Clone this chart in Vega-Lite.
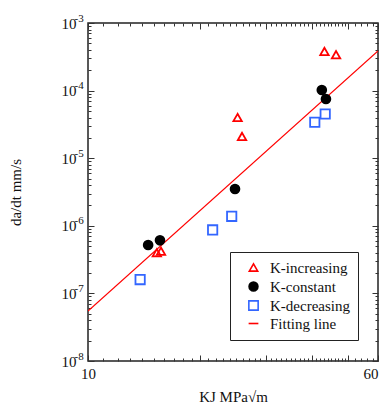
{
  "$schema": "https://vega.github.io/schema/vega-lite/v6.json",
  "width": 290,
  "height": 338,
  "autosize": {"type": "none"},
  "padding": {"left": 88, "top": 23, "right": 12, "bottom": 50},
  "background": "white",
  "config": {
    "view": {"stroke": "#222", "strokeWidth": 1.5},
    "font": "Liberation Serif",
    "legend": {
      "orient": "none",
      "legendX": 142,
      "legendY": 229,
      "strokeColor": "#222",
      "fillColor": "white",
      "padding": 8,
      "labelFont": "Liberation Serif",
      "labelFontSize": 15,
      "labelColor": "#111",
      "labelOffset": 9,
      "symbolOffset": 8,
      "rowPadding": 2,
      "symbolStrokeWidth": 1.6
    }
  },
  "data": {
    "values": [
      {"series": "K-increasing", "K": 15.3, "rate": 4.0e-7},
      {"series": "K-increasing", "K": 15.7, "rate": 4.2e-7},
      {"series": "K-increasing", "K": 25.2, "rate": 4.0e-5},
      {"series": "K-increasing", "K": 25.9, "rate": 2.1e-5},
      {"series": "K-increasing", "K": 43.1, "rate": 3.8e-4},
      {"series": "K-increasing", "K": 46.3, "rate": 3.4e-4},
      {"series": "K-constant", "K": 14.5, "rate": 5.2e-7},
      {"series": "K-constant", "K": 15.6, "rate": 6.1e-7},
      {"series": "K-constant", "K": 24.8, "rate": 3.5e-6},
      {"series": "K-constant", "K": 42.4, "rate": 1.02e-4},
      {"series": "K-constant", "K": 43.5, "rate": 7.5e-5},
      {"series": "K-decreasing", "K": 13.8, "rate": 1.6e-7},
      {"series": "K-decreasing", "K": 21.6, "rate": 8.7e-7},
      {"series": "K-decreasing", "K": 24.3, "rate": 1.38e-6},
      {"series": "K-decreasing", "K": 40.6, "rate": 3.4e-5},
      {"series": "K-decreasing", "K": 43.3, "rate": 4.5e-5},
      {"series": "Fitting line", "K": 10, "rate": 5.5e-8},
      {"series": "Fitting line", "K": 60, "rate": 3.85e-4}
    ]
  },
  "layer": [
    {
      "transform": [{"filter": "datum.series == 'Fitting line'"}],
      "mark": {"type": "line", "strokeWidth": 1.2, "clip": true},
      "encoding": {
        "x": {
          "field": "K", "type": "quantitative",
          "scale": {"type": "log", "domain": [10, 60], "nice": false},
          "axis": {
            "orient": "top", "title": null, "labels": false, "domain": false, "grid": false,
            "values": [10,11,12,13,14,15,16,17,18,19,20,21,22,23,24,25,26,27,28,29,30,31,32,33,34,35,36,37,38,39,40,41,42,43,44,45,46,47,48,49,50,52,54,56,58,60],
            "tickColor": "#333",
            "tickSize": {"condition": {"test": "datum.value % 10 == 0", "value": -6}, "value": -3}
          }
        },
        "y": {
          "field": "rate", "type": "quantitative",
          "scale": {"type": "log", "domain": [1e-8, 1e-3], "nice": false},
          "axis": {
            "orient": "right", "title": null, "labels": false, "domain": false, "grid": false,
            "values": [1e-8,2e-8,3e-8,4e-8,5e-8,6e-8,7e-8,8e-8,9e-8,1e-7,2e-7,3e-7,4e-7,5e-7,6e-7,7e-7,8e-7,9e-7,1e-6,2e-6,3e-6,4e-6,5e-6,6e-6,7e-6,8e-6,9e-6,1e-5,2e-5,3e-5,4e-5,5e-5,6e-5,7e-5,8e-5,9e-5,1e-4,2e-4,3e-4,4e-4,5e-4,6e-4,7e-4,8e-4,9e-4,1e-3],
            "tickColor": "#333",
            "tickSize": {"condition": {"test": "abs(log(datum.value)/LN10 - round(log(datum.value)/LN10)) < 0.001", "value": -6}, "value": -3}
          }
        },
        "stroke": {
          "field": "series", "type": "nominal",
          "scale": {"domain": ["K-increasing", "K-constant", "K-decreasing", "Fitting line"], "range": ["#ff0000", "#000000", "#3366ff", "#ff0000"]},
          "legend": {"title": null, "labelExpr": "datum.label + '\u00a0\u00a0\u00a0\u00a0\u00a0'"}
        }
      }
    },
    {
      "transform": [{"filter": "datum.series == 'K-increasing' || datum.series == 'K-constant'"}],
      "mark": {"type": "point", "strokeWidth": 1.8, "opacity": 1},
      "encoding": {
        "x": {
          "field": "K", "type": "quantitative",
          "scale": {"type": "log", "domain": [10, 60], "nice": false},
          "axis": {
            "orient": "bottom", "title": "KJ MPa√m", "domain": false, "grid": false,
            "values": [10,11,12,13,14,15,16,17,18,19,20,21,22,23,24,25,26,27,28,29,30,31,32,33,34,35,36,37,38,39,40,41,42,43,44,45,46,47,48,49,50,52,54,56,58,60],
            "format": "d",
            "labelExpr": "datum.value == 10 || datum.value == 60 ? datum.label : ''",
            "labelAlign": {"condition": {"test": "datum.value == 60", "value": "right"}, "value": "center"},
            "labelOverlap": false, "labelFlush": false,
            "labelFont": "Liberation Serif", "labelFontSize": 15, "labelColor": "#111",
            "labelPadding": 11,
            "titleFont": "Liberation Serif", "titleFontSize": 15, "titleFontWeight": "normal", "titleColor": "#111",
            "titlePadding": 5,
            "tickColor": "#333",
            "tickSize": {"condition": {"test": "datum.value % 10 == 0", "value": -6}, "value": -3}
          }
        },
        "y": {
          "field": "rate", "type": "quantitative",
          "scale": {"type": "log", "domain": [1e-8, 1e-3], "nice": false},
          "axis": {
            "orient": "left", "title": "da/dt mm/s", "domain": false, "grid": false,
            "values": [1e-8,2e-8,3e-8,4e-8,5e-8,6e-8,7e-8,8e-8,9e-8,1e-7,2e-7,3e-7,4e-7,5e-7,6e-7,7e-7,8e-7,9e-7,1e-6,2e-6,3e-6,4e-6,5e-6,6e-6,7e-6,8e-6,9e-6,1e-5,2e-5,3e-5,4e-5,5e-5,6e-5,7e-5,8e-5,9e-5,1e-4,2e-4,3e-4,4e-4,5e-4,6e-4,7e-4,8e-4,9e-4,1e-3],
            "labelExpr": "abs(log(datum.value)/LN10 - round(log(datum.value)/LN10)) < 0.001 ? '10' : ''",
            "labelOverlap": false, "labelFlush": false,
            "labelFont": "Liberation Serif", "labelFontSize": 15, "labelColor": "#111",
            "labelPadding": 18,
            "titleFont": "Liberation Serif", "titleFontSize": 15, "titleFontWeight": "normal", "titleColor": "#111",
            "titlePadding": 38,
            "tickColor": "#333",
            "tickSize": {"condition": {"test": "abs(log(datum.value)/LN10 - round(log(datum.value)/LN10)) < 0.001", "value": -6}, "value": -3}
          }
        },
        "shape": {
          "field": "series", "type": "nominal",
          "scale": {"domain": ["K-increasing", "K-constant", "K-decreasing", "Fitting line"], "range": ["triangle-up", "circle", "square", "stroke"]},
          "legend": {"title": null, "labelExpr": "datum.label + '\u00a0\u00a0\u00a0\u00a0\u00a0'"}
        },
        "stroke": {
          "field": "series", "type": "nominal",
          "scale": {"domain": ["K-increasing", "K-constant", "K-decreasing", "Fitting line"], "range": ["#ff0000", "#000000", "#3366ff", "#ff0000"]},
          "legend": {"title": null, "labelExpr": "datum.label + '\u00a0\u00a0\u00a0\u00a0\u00a0'"}
        },
        "fill": {
          "field": "series", "type": "nominal",
          "scale": {"domain": ["K-increasing", "K-constant", "K-decreasing", "Fitting line"], "range": ["transparent", "#000000", "transparent", "transparent"]},
          "legend": {"title": null, "labelExpr": "datum.label + '\u00a0\u00a0\u00a0\u00a0\u00a0'"}
        },
        "size": {
          "field": "series", "type": "nominal",
          "scale": {"domain": ["K-increasing", "K-constant", "K-decreasing", "Fitting line"], "range": [70, 95, 72, 900]},
          "legend": {"title": null, "labelExpr": "datum.label + '\u00a0\u00a0\u00a0\u00a0\u00a0'"}
        }
      }
    },
    {
      "transform": [{"filter": "datum.series == 'K-decreasing'"}],
      "mark": {"type": "point", "strokeWidth": 1.8, "opacity": 1},
      "encoding": {
        "x": {
          "field": "K", "type": "quantitative",
          "scale": {"type": "log", "domain": [10, 60], "nice": false},
          "axis": null
        },
        "y": {
          "field": "rate", "type": "quantitative",
          "scale": {"type": "log", "domain": [1e-8, 1e-3], "nice": false},
          "axis": {
            "orient": "left", "title": null, "domain": false, "grid": false, "ticks": false,
            "values": [1e-8,1e-7,1e-6,1e-5,1e-4,1e-3],
            "labelExpr": "'-' + format(-round(log(datum.value)/LN10), 'd')",
            "labelOverlap": false, "labelFlush": false,
            "labelAlign": "left",
            "labelOffset": -5,
            "labelFont": "Liberation Serif", "labelFontSize": 11, "labelColor": "#111",
            "labelPadding": 14
          }
        },
        "shape": {
          "field": "series", "type": "nominal",
          "scale": {"domain": ["K-increasing", "K-constant", "K-decreasing", "Fitting line"], "range": ["triangle-up", "circle", "square", "stroke"]},
          "legend": {"title": null, "labelExpr": "datum.label + '\u00a0\u00a0\u00a0\u00a0\u00a0'"}
        },
        "stroke": {
          "field": "series", "type": "nominal",
          "scale": {"domain": ["K-increasing", "K-constant", "K-decreasing", "Fitting line"], "range": ["#ff0000", "#000000", "#3366ff", "#ff0000"]},
          "legend": {"title": null, "labelExpr": "datum.label + '\u00a0\u00a0\u00a0\u00a0\u00a0'"}
        },
        "fill": {
          "field": "series", "type": "nominal",
          "scale": {"domain": ["K-increasing", "K-constant", "K-decreasing", "Fitting line"], "range": ["transparent", "#000000", "transparent", "transparent"]},
          "legend": {"title": null, "labelExpr": "datum.label + '\u00a0\u00a0\u00a0\u00a0\u00a0'"}
        },
        "size": {
          "field": "series", "type": "nominal",
          "scale": {"domain": ["K-increasing", "K-constant", "K-decreasing", "Fitting line"], "range": [70, 95, 72, 900]},
          "legend": {"title": null, "labelExpr": "datum.label + '\u00a0\u00a0\u00a0\u00a0\u00a0'"}
        }
      }
    }
  ],
  "resolve": {"axis": {"x": "independent", "y": "independent"}}
}
